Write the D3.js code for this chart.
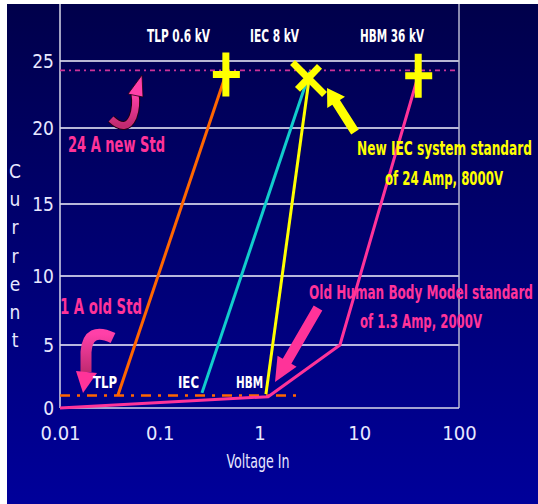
<!DOCTYPE html>
<html>
<head>
<meta charset="utf-8">
<script src="https://cdn.jsdelivr.net/npm/d3@7"></script>
<style>
  body { margin: 0; background: #fff; }
  svg { display: block; }
</style>
</head>
<body>
<svg id="chart" width="538" height="504"></svg>
<script>
// axis ticks
const xTicks = [0.01, 0.1, 1, 10, 100]
const yTicks = [0, 5, 10, 15, 20, 25, 30]
const gridTicks = [5, 10, 15, 20, 25]

// curves: voltage (kV) / current (A)
const tlpV = [0.038, 0.46], tlpI = [1.0, 24.0]
const iecV = [0.265, 3.2], iecI = [1.2, 24.2]
const hbmV = [1.16, 3.2], hbmI = [1.1, 24.1]
const hbmOldV = [0.01, 1.22, 6.4, 39], hbmOldI = [0, 0.9, 5, 23.9]

// standards (dash-dot lines)
const oldStdV = [0.01, 2.55], oldStdI = [1, 1]
const newStdV = [0.01, 100], newStdI = [24.3, 24.3]

// markers
const plusV = [0.46, 39], plusI = [24.0, 23.9]
const crossV = [3.1], crossI = [23.7]

const FONT = "'Liberation Sans Narrow','Arial Narrow','DejaVu Sans Condensed',sans-serif"

const svg = d3.select('#chart')

// background
const defs = svg.append('defs')
const bg = defs.append('linearGradient').attr('id', 'bg')
  .attr('x1', 0).attr('y1', 0).attr('x2', 0).attr('y2', 1)
bg.append('stop').attr('offset', '0%').attr('stop-color', '#00004a')
bg.append('stop').attr('offset', '100%').attr('stop-color', '#00009a')
svg.append('rect').attr('x', 0).attr('y', 0).attr('width', 538).attr('height', 504)
  .attr('fill', 'url(#bg)')

const x = d3.scaleLog().domain([0.01, 100]).range([60, 459])
const y = d3.scaleLinear().domain(yTicks).range([408, 345, 276, 204, 128, 61, -6])

// gridlines
svg.append('g').selectAll('line').data(gridTicks).enter().append('line')
  .attr('x1', x(0.01)).attr('x2', x(100))
  .attr('y1', d => y(d)).attr('y2', d => y(d))
  .attr('stroke', '#f4f4ff').attr('stroke-width', 1.5)

// frame
svg.append('line').attr('x1', x(0.01)).attr('x2', x(0.01)).attr('y1', y(30)).attr('y2', y(0))
  .attr('stroke', '#d8d8e8').attr('stroke-width', 1.5)
svg.append('line').attr('x1', x(100)).attr('x2', x(100)).attr('y1', y(30)).attr('y2', y(0))
  .attr('stroke', '#b8b8d0').attr('stroke-width', 1.5)
svg.append('line').attr('x1', x(0.01)).attr('x2', x(100)).attr('y1', y(0)).attr('y2', y(0))
  .attr('stroke', '#d8d8e8').attr('stroke-width', 1.5)

// axes (labels only)
const fmt = d => d < 1 ? String(d) : d3.format('d')(d)
const gx = svg.append('g').attr('transform', 'translate(0,' + y(0) + ')')
  .call(d3.axisBottom(x).tickValues(xTicks).tickFormat(fmt).tickSize(0).tickPadding(18))
const gy = svg.append('g').attr('transform', 'translate(' + (x(0.01) - 6) + ',0)')
  .call(d3.axisLeft(y).tickValues(yTicks).tickSize(0).tickPadding(0))
gx.select('.domain').remove()
gy.select('.domain').remove()
gx.selectAll('text').attr('fill', '#e8e8ff').style('font-family', FONT).style('font-size', '20px')
gy.selectAll('text').attr('fill', '#e8e8ff').style('font-family', FONT).style('font-size', '19px')

// dash-dot standards
const line = d3.line().x(d => x(d[0])).y(d => y(d[1]))
svg.append('path').datum(d3.zip(oldStdV, oldStdI)).attr('d', line)
  .attr('fill', 'none').attr('stroke', '#ff6600').attr('stroke-width', 2.5)
  .attr('stroke-dasharray', '10,7,3,7')
svg.append('path').datum(d3.zip(newStdV, newStdI)).attr('d', line)
  .attr('fill', 'none').attr('stroke', '#cc3399').attr('stroke-width', 1.8)
  .attr('stroke-dasharray', '5,4,2,4')

// curves
const curves = [
  { v: hbmOldV, i: hbmOldI, c: '#ff3399' },
  { v: tlpV, i: tlpI, c: '#ff6600' },
  { v: iecV, i: iecI, c: '#11cccc' },
  { v: hbmV, i: hbmI, c: '#ffff00' }
]
svg.append('g').selectAll('path').data(curves).enter().append('path')
  .attr('d', d => line(d3.zip(d.v, d.i)))
  .attr('fill', 'none').attr('stroke', d => d.c).attr('stroke-width', 3)
  .attr('stroke-linejoin', 'miter')

// markers
svg.append('g').selectAll('path').data(d3.zip(plusV, plusI)).enter().append('path')
  .attr('transform', d => 'translate(' + x(d[0]) + ',' + y(d[1]) + ')')
  .attr('d', 'M0,-22V22M-13,0H14')
  .attr('stroke', '#ffff00').attr('stroke-width', 7).attr('fill', 'none')
svg.append('g').selectAll('path').data(d3.zip(crossV, crossI)).enter().append('path')
  .attr('transform', d => 'translate(' + x(d[0]) + ',' + y(d[1]) + ')')
  .attr('d', 'M-16,-16L16,16M11,-12L-11,11')
  .attr('stroke', '#ffff00').attr('stroke-width', 7).attr('fill', 'none')

// arrows
const arrowPts = (x1, y1, x2, y2, w, hl, hw) => {
  const L = Math.hypot(x2 - x1, y2 - y1), ux = (x2 - x1) / L, uy = (y2 - y1) / L
  const nx = -uy, ny = ux, bx = x2 - ux * hl, by = y2 - uy * hl
  return [
    [x1 + nx * w / 2, y1 + ny * w / 2], [bx + nx * w / 2, by + ny * w / 2],
    [bx + nx * hw / 2, by + ny * hw / 2], [x2, y2],
    [bx - nx * hw / 2, by - ny * hw / 2], [bx - nx * w / 2, by - ny * w / 2],
    [x1 - nx * w / 2, y1 - ny * w / 2]
  ].join(' ')
}
svg.append('polygon').attr('points', arrowPts(355, 132, 327, 88, 9, 17, 21))
  .attr('fill', '#ffff00')
svg.append('polygon').attr('points', arrowPts(318, 308, 275, 382, 10, 24, 22))
  .attr('fill', '#ff3399')

// curved arrow: 24 A new Std
const pg = defs.append('linearGradient').attr('id', 'pk')
  .attr('x1', 0).attr('y1', 1).attr('x2', 0).attr('y2', 0)
pg.append('stop').attr('offset', '0%').attr('stop-color', '#c02a70')
pg.append('stop').attr('offset', '100%').attr('stop-color', '#ff40a8')
const a1 = svg.append('g')
a1.append('path').attr('d', 'M111,119 Q126,133 133,117 Q137,106 135,94')
  .attr('fill', 'none').attr('stroke', '#200010').attr('stroke-width', 9)
a1.append('path').attr('d', 'M111,119 Q126,133 133,117 Q137,106 135,94')
  .attr('fill', 'none').attr('stroke', 'url(#pk)').attr('stroke-width', 7)
a1.append('polygon').attr('points', '128,94 142,75 143,97').attr('fill', '#ff40a8')
  .attr('stroke', '#200010').attr('stroke-width', 0.8)

// curved arrow: 1 A old Std
const a2 = svg.append('g')
a2.append('path').attr('d', 'M113,338 Q88,326 86,352 L86,372')
  .attr('fill', 'none').attr('stroke', 'url(#pk)').attr('stroke-width', 11)
a2.append('polygon').attr('points', '76,371 97,373 83,393').attr('fill', '#ff3399')

// texts
const addText = (tx, ty, str, size, fill, anchor, len, weight) => {
  const t = svg.append('text').attr('x', tx).attr('y', ty).text(str)
    .attr('fill', fill).attr('text-anchor', anchor || 'start')
    .style('font-family', FONT).style('font-size', size + 'px')
    .style('font-weight', weight || 'bold')
  if (len) t.attr('textLength', len).attr('lengthAdjust', 'spacingAndGlyphs')
  return t
}
addText(147, 42, 'TLP 0.6 kV', 18, '#ffffff', 'start', 63)
addText(250, 42, 'IEC 8 kV', 18, '#ffffff', 'start', 49)
addText(360, 42, 'HBM 36 kV', 18, '#ffffff', 'start', 64)
addText(68, 152, '24 A new Std', 22, '#ff3399', 'start', 97)
addText(60, 314, '1 A old Std', 22, '#ff3399', 'start', 82)
addText(357, 155, 'New IEC system standard', 20, '#ffff00', 'start', 175)
addText(385, 185, 'of 24 Amp, 8000V', 20, '#ffff00', 'start', 118)
addText(309, 299, 'Old Human Body Model standard', 20, '#ff3399', 'start', 224)
addText(360, 328, 'of 1.3 Amp, 2000V', 20, '#ff3399', 'start', 122)
addText(93, 388, 'TLP', 15, '#ffffff', 'start', 24)
addText(178, 388, 'IEC', 15, '#ffffff', 'start', 21)
addText(236, 388, 'HBM', 15, '#ffffff', 'start', 27)
addText(258, 468, 'Voltage In', 20, '#e8e8ff', 'middle', 63, 'normal')

// y title, stacked letters
svg.append('g').selectAll('text').data('Current'.split('')).enter().append('text')
  .attr('x', 15).attr('y', (d, i) => 178 + i * 28.2)
  .attr('text-anchor', 'middle').attr('fill', '#e8e8ff')
  .style('font-family', FONT).style('font-size', '19px')
  .text(d => d)

// white page edge
svg.append('rect').attr('x', 0).attr('y', 0).attr('width', 538).attr('height', 4).attr('fill', '#fff')
svg.append('rect').attr('x', 0).attr('y', 0).attr('width', 7).attr('height', 504).attr('fill', '#fff')
</script>
</body>
</html>
